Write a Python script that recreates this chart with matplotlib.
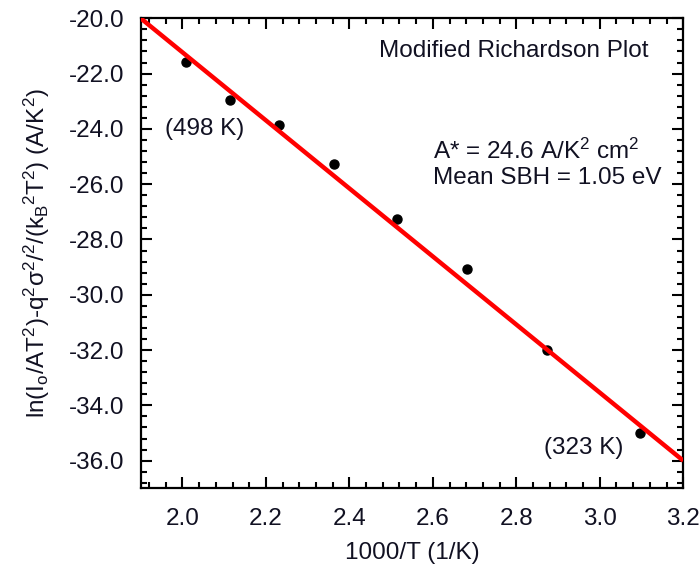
import numpy as np
import matplotlib
matplotlib.use("Agg")
import matplotlib.pyplot as plt
from matplotlib.ticker import MultipleLocator, FormatStrFormatter

plt.rcParams['font.family'] = ['Liberation Sans', 'DejaVu Sans']
plt.rcParams['mathtext.fontset'] = 'custom'
plt.rcParams['mathtext.rm'] = 'Liberation Sans'
plt.rcParams['mathtext.it'] = 'Liberation Sans'
plt.rcParams['mathtext.sf'] = 'Liberation Sans'

# Data (1000/T in 1/K, modified Richardson ordinate)
inv_T = [2.008, 2.114, 2.232, 2.364, 2.513, 2.681, 2.874, 3.096]
ln_mod = [-21.57, -22.95, -23.87, -25.27, -27.26, -29.07, -32.01, -34.99]

# Linear fit parameters
fit_slope = -12.31
fit_intercept = 3.39

x_limits = (1.9, 3.2)
y_limits = (-37.0, -20.0)

TXT = '#111122'
FS = 17.5

fig = plt.figure(figsize=(6.99, 5.76), dpi=100)
ax = fig.add_axes([0.2013, 0.1523, 0.7762, 0.8159])

ax.plot(inv_T, ln_mod, 'o', color='black', markersize=6.5, zorder=3)
xf = np.array(x_limits)
ax.plot(xf, fit_slope * xf + fit_intercept, color='#ff0000', lw=3.2, zorder=4,
        solid_capstyle='butt')

ax.set_xlim(*x_limits)
ax.set_ylim(*y_limits)

ax.xaxis.set_major_locator(MultipleLocator(0.2))
ax.xaxis.set_minor_locator(MultipleLocator(0.04))
ax.yaxis.set_major_locator(MultipleLocator(2.0))
ax.yaxis.set_minor_locator(MultipleLocator(0.4))
ax.xaxis.set_major_formatter(FormatStrFormatter('%.1f'))
ax.yaxis.set_major_formatter(FormatStrFormatter('%.1f'))

ax.tick_params(which='both', direction='in', top=True, right=True,
               width=1.5, colors='black', labelcolor=TXT, labelsize=FS)
ax.tick_params(which='major', length=8)
ax.tick_params(which='minor', length=4.5)
ax.tick_params(axis='x', which='major', pad=14)
ax.tick_params(axis='y', which='major', pad=12)
for s in ax.spines.values():
    s.set_linewidth(1.6)

ax.set_xlabel('1000/T (1/K)', fontsize=FS, color=TXT, labelpad=9)
ax.set_ylabel(r'ln(I$_o$/AT$^2$)-q$^2$σ$^2$/$^2$/(k$_B$$^2$T$^2$) (A/K$^2$)',
              fontsize=FS, color=TXT, labelpad=12)

ax.text(2.795, -21.2, 'Modified Richardson Plot', fontsize=FS, color=TXT,
        ha='center', va='center')
ax.text(2.600, -24.82, r'A* = 24.6 A/K$^2$ cm$^2$', fontsize=FS, color=TXT,
        ha='left', va='center')
ax.text(2.600, -25.78, 'Mean SBH = 1.05 eV', fontsize=FS, color=TXT,
        ha='left', va='center')
ax.text(2.053, -24.0, '(498 K)', fontsize=FS, color=TXT, ha='center', va='center')
ax.text(2.962, -35.53, '(323 K)', fontsize=FS, color=TXT, ha='center', va='center')

fig.savefig('out.png', dpi=100)
